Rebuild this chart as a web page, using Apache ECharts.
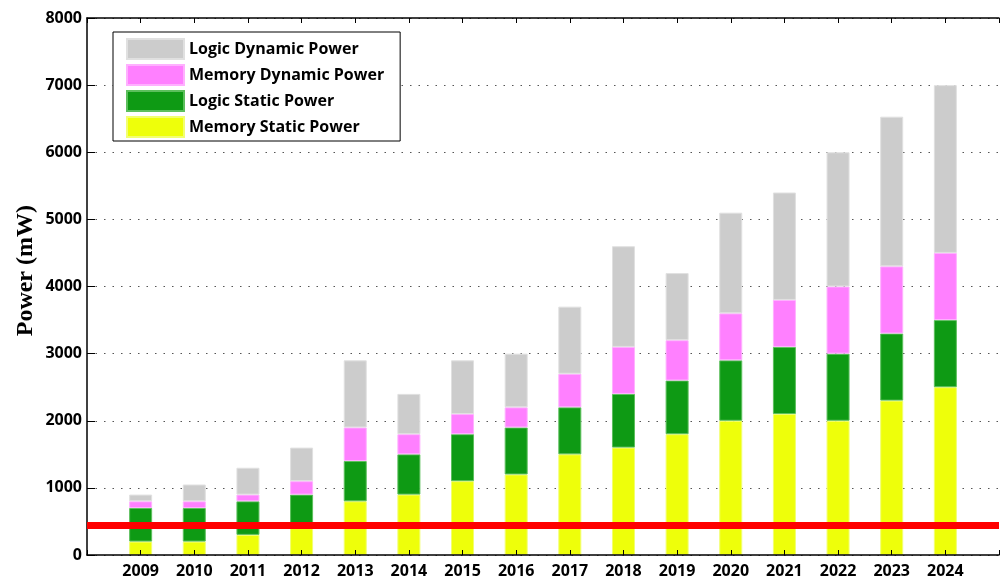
<!DOCTYPE html>
<html>
<head>
<meta charset="utf-8">
<script src="https://cdn.jsdelivr.net/npm/echarts@6/dist/echarts.min.js"></script>
<style>
html,body{margin:0;padding:0;background:#fff;}
#chart{width:1002px;height:579px;}
</style>
</head>
<body>
<div id="chart"></div>
<script>
const years = ['2009','2010','2011','2012','2013','2014','2015','2016','2017','2018','2019','2020','2021','2022','2023','2024'];
const memoryStatic  = [200, 200, 300, 400, 800, 900, 1100, 1200, 1500, 1600, 1800, 2000, 2100, 2000, 2300, 2500];
const logicStatic   = [500, 500, 500, 500, 600, 600, 700, 700, 700, 800, 800, 900, 1000, 1000, 1000, 1000];
const memoryDynamic = [100, 100, 100, 200, 500, 300, 300, 300, 500, 700, 600, 700, 700, 1000, 1000, 1000];
const logicDynamic  = [100, 250, 400, 500, 1000, 600, 800, 800, 1000, 1500, 1000, 1500, 1600, 2000, 2230, 2500];
const yTicks = [0, 1000, 2000, 3000, 4000, 5000, 6000, 7000, 8000];
const budgetLine = 450;
const seriesNames = ['Memory Static Power', 'Logic Static Power', 'Memory Dynamic Power', 'Logic Dynamic Power'];
const legendOrder = ['Logic Dynamic Power', 'Memory Dynamic Power', 'Logic Static Power', 'Memory Static Power'];

// pad one empty slot each side (axis spans 0..17 like the original)
const cats = [''].concat(years, ['']);
const pad = arr => [null].concat(arr, [null]);

const labelFont = {fontFamily: 'Open Sans', fontWeight: 'bold', fontSize: 16, color: '#000'};
const colors = ['#eeff0a', '#0e9a14', '#ff80ff', '#cccccc'];
const borders = ['#f2ff70', '#5cbf5c', '#ffb0ff', '#e0e0e0'];
const values = [memoryStatic, logicStatic, memoryDynamic, logicDynamic];

const series = seriesNames.map((name, i) => ({
  name: name,
  type: 'bar',
  stack: 'power',
  xAxisIndex: 0,
  yAxisIndex: 0,
  barWidth: 23,
  data: pad(values[i]),
  itemStyle: {color: colors[i], borderColor: borders[i], borderWidth: 1},
  emphasis: {disabled: true},
  animation: false
}));
series.push({
  type: 'line',
  data: [],
  xAxisIndex: 0,
  yAxisIndex: 0,
  markLine: {
    silent: true,
    symbol: 'none',
    label: {show: false},
    lineStyle: {color: '#ff0000', width: 7, type: 'solid'},
    data: [{yAxis: budgetLine}]
  },
  animation: false
});

const chart = echarts.init(document.getElementById('chart'), null, {renderer: 'canvas'});
chart.setOption({
  animation: false,
  backgroundColor: '#fff',
  grid: {left: 87, top: 18, width: 925, height: 538, containLabel: false},
  legend: {
    data: legendOrder,
    orient: 'vertical',
    left: 113, top: 32,
    itemWidth: 57, itemHeight: 20, itemGap: 4,
    icon: 'rect',
    padding: [6, 16, 3, 13],
    borderColor: '#000', borderWidth: 1,
    backgroundColor: '#fff',
    textStyle: {fontFamily: 'Open Sans', fontWeight: 'bold', fontSize: 16, lineHeight: 20, color: '#000'},
    selectedMode: false
  },
  xAxis: [{
    type: 'category',
    data: cats,
    boundaryGap: false,
    position: 'bottom',
    axisLine: {lineStyle: {color: '#000', width: 1.5}},
    axisTick: {inside: true, length: 5, lineStyle: {color: '#000'}},
    axisLabel: Object.assign({margin: 8, interval: 0}, labelFont),
    splitLine: {show: false},
    z: 5
  }, {
    type: 'category',
    data: cats,
    boundaryGap: false,
    position: 'top',
    axisLine: {lineStyle: {color: '#000', width: 1.5}},
    axisTick: {inside: true, length: 5, interval: 0, lineStyle: {color: '#000'}},
    axisLabel: {show: false},
    splitLine: {show: false}
  }],
  yAxis: {
    type: 'value',
    min: yTicks[0], max: yTicks[yTicks.length - 1], interval: 1000,
    axisLine: {show: true, lineStyle: {color: '#000', width: 1.5}},
    axisTick: {show: true, inside: true, length: 8, lineStyle: {color: '#000'}},
    axisLabel: Object.assign({margin: 5, formatter: v => String(v)}, labelFont),
    splitLine: {show: true, lineStyle: {color: '#555', width: 1, type: [1.5, 7]}}
  },
  graphic: [{
    type: 'text',
    left: 14,
    top: 205,
    rotation: Math.PI / 2,
    style: {text: 'Power (mW)', font: 'bold 24px "Liberation Serif"', fill: '#000'}
  }],
  series: series
});
</script>
</body>
</html>
